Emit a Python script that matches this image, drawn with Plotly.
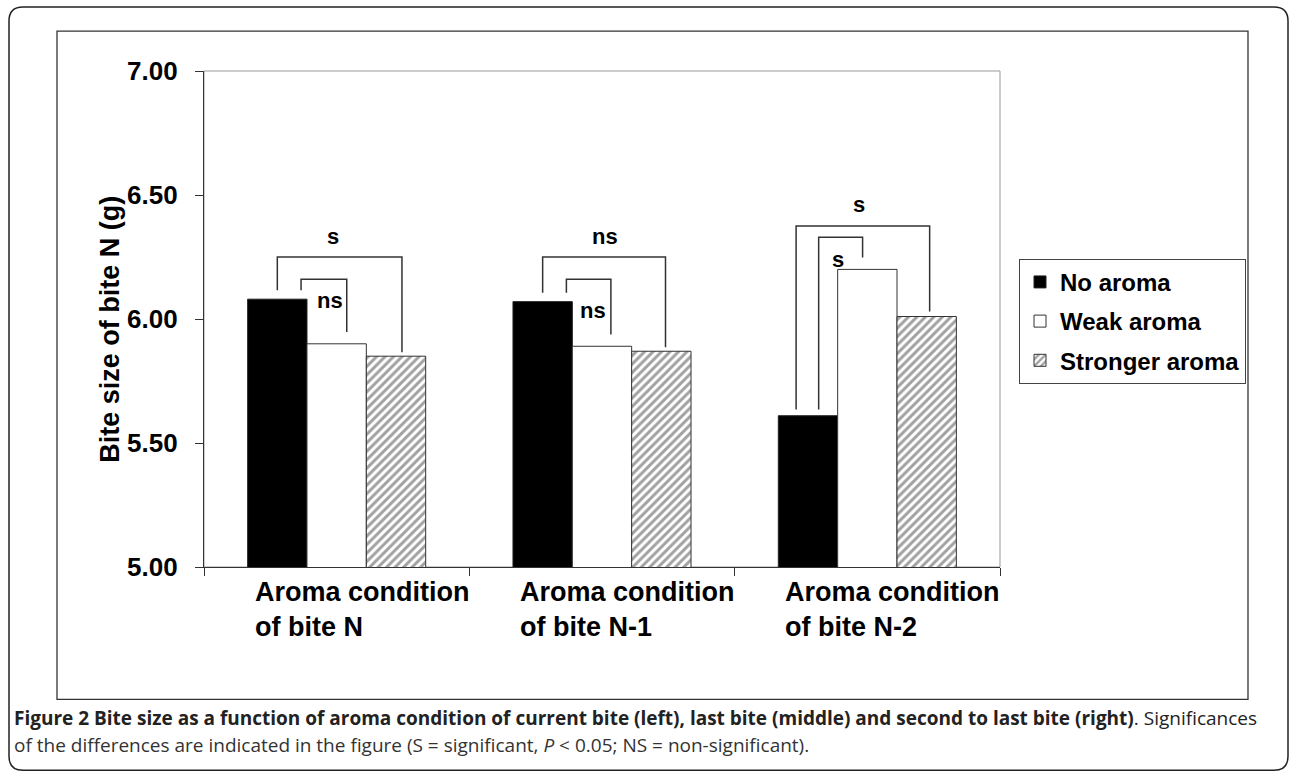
import plotly.graph_objects as go

# ---- data -------------------------------------------------------------
groups = ["Aroma condition<br>of bite N", "Aroma condition<br>of bite N-1", "Aroma condition<br>of bite N-2"]
series_names = ["No aroma", "Weak aroma", "Stronger aroma"]
no_aroma = [6.08, 6.07, 5.61]
weak_aroma = [5.90, 5.89, 6.20]
stronger_aroma = [5.85, 5.87, 6.01]
y_ticks = [5.0, 5.5, 6.0, 6.5, 7.0]

# significance brackets: group, (bar, shift in bar widths) for each arm,
# bracket top, gap above each bar, label, label position (offset, y)
brackets = [
    (0, (0, 0.00), (2, 0.10), 6.25, (0.036, 0.016), "s", (-0.014, 6.332)),
    (0, (0, 0.40), (1, 0.17), 6.16, (0.036, 0.048), "ns", (-0.027, 6.073)),
    (1, (0, 0.00), (2, 0.07), 6.25, (0.036, 0.016), "ns", (0.011, 6.332)),
    (1, (0, 0.40), (1, 0.15), 6.16, (0.036, 0.048), "ns", (-0.034, 6.033)),
    (2, (0, -0.20), (2, 0.05), 6.375, (0.025, 0.020), "s", (-0.030, 6.460)),
    (2, (0, 0.18), (1, -0.08), 6.33, (0.025, 0.048), "s", (-0.110, 6.239)),
]

# ---- geometry (pixels) ------------------------------------------------
W, H = 1292, 775
L, R, T, B = 204, 1000, 71, 567.5
BARGAP = 0.329
BAR_W = (1 - BARGAP) / 3


def px_x(p):
    return (p - L) / (R - L)


def px_y(p):
    return (B - p) / (B - T)


values = [no_aroma, weak_aroma, stronger_aroma]
xs = list(range(len(groups)))

fig = go.Figure()
fig.add_trace(go.Bar(
    name=f"<b>{series_names[0]}</b>", x=xs, y=no_aroma, legendgroup="a",
    marker=dict(color="black", line=dict(color="#222", width=1)),
))
fig.add_trace(go.Bar(
    name=f"<b>{series_names[1]}</b>", x=xs, y=weak_aroma, legendgroup="b",
    marker=dict(color="white", line=dict(color="#333", width=1)),
))
fig.add_trace(go.Bar(
    name=f"<b>{series_names[2]}</b>", x=xs, y=stronger_aroma, legendgroup="c",
    marker=dict(color="white", line=dict(color="#333", width=1),
                pattern=dict(shape="/", fgcolor="#444", bgcolor="white",
                             size=6, solidity=0.5)),
))

shapes = []
annotations = []

# brackets
for g, (lb, ls), (rb, rs), top, (lgap, rgap), label, (lx, ly) in brackets:
    x_left = g + (lb - 1) * BAR_W + ls * BAR_W
    x_right = g + (rb - 1) * BAR_W + rs * BAR_W
    y_left = values[lb][g] + lgap
    y_right = values[rb][g] + rgap
    shapes.append(dict(
        type="path", xref="x", yref="y",
        path=f"M{x_left},{y_left} L{x_left},{top} L{x_right},{top} L{x_right},{y_right}",
        line=dict(color="#333", width=1.5),
    ))
    annotations.append(dict(
        x=g + lx, y=ly, xref="x", yref="y", text=f"<b>{label}</b>",
        showarrow=False, xanchor="center", yanchor="middle",
        font=dict(family="Liberation Sans", size=22, color="black"),
    ))

# category labels
for g, name in enumerate(groups):
    annotations.append(dict(
        x=g - 0.316, y=px_y(576), xref="x", yref="paper", text=f"<b>{name}</b>",
        showarrow=False, xanchor="left", yanchor="top", align="left",
        font=dict(family="Liberation Sans", size=27, color="black"),
    ))

# y-axis title
annotations.append(dict(
    x=px_x(110), y=px_y(330), xref="paper", yref="paper",
    text="<b>Bite size of bite N (g)</b>", textangle=-90, showarrow=False,
    xanchor="center", yanchor="middle",
    font=dict(family="Liberation Sans", size=27, color="black"),
))

# caption
annotations.append(dict(
    x=px_x(12), y=px_y(719), xref="paper", yref="paper",
    text="<b>Figure 2 Bite size as a function of aroma condition of current bite (left), "
         "last bite (middle) and second to last bite (right)</b>. Significances",
    showarrow=False, xanchor="left", yanchor="middle",
    font=dict(family="Open Sans", size=19, color="#222"),
))
annotations.append(dict(
    x=px_x(12), y=px_y(746), xref="paper", yref="paper",
    text="of the differences are indicated in the figure (S = significant, "
         "<i>P</i> &lt; 0.05; NS = non-significant).",
    showarrow=False, xanchor="left", yanchor="middle",
    font=dict(family="Open Sans", size=19, color="#333"),
))

# plot-area border (top and right), inner chart frame, outer rounded frame
shapes.append(dict(type="rect", xref="paper", yref="paper", x0=0, y0=0, x1=1, y1=1,
                   line=dict(color="#999", width=1), layer="below"))
shapes.append(dict(type="rect", xref="paper", yref="paper",
                   x0=px_x(57), y0=px_y(700), x1=px_x(1248), y1=px_y(31),
                   line=dict(color="#333", width=1.3), layer="below"))
r = 14
ox0, oy0, ox1, oy1 = 9, 7, 1288, 771
pts = (
    f"M{px_x(ox0)},{px_y(oy0 + r)} Q{px_x(ox0)},{px_y(oy0)} {px_x(ox0 + r)},{px_y(oy0)} "
    f"L{px_x(ox1 - r)},{px_y(oy0)} Q{px_x(ox1)},{px_y(oy0)} {px_x(ox1)},{px_y(oy0 + r)} "
    f"L{px_x(ox1)},{px_y(oy1 - r)} Q{px_x(ox1)},{px_y(oy1)} {px_x(ox1 - r)},{px_y(oy1)} "
    f"L{px_x(ox0 + r)},{px_y(oy1)} Q{px_x(ox0)},{px_y(oy1)} {px_x(ox0)},{px_y(oy1 - r)} Z"
)
shapes.append(dict(type="path", xref="paper", yref="paper", path=pts,
                   line=dict(color="#222", width=1.5), layer="below"))

fig.update_layout(
    width=W, height=H,
    margin=dict(l=L, r=W - R, t=T, b=H - B, pad=0),
    paper_bgcolor="white", plot_bgcolor="white",
    barmode="group", bargap=BARGAP, bargroupgap=0,
    showlegend=True,
    legend=dict(
        x=px_x(1019), y=px_y(259), xanchor="left", yanchor="top",
        bordercolor="#444", borderwidth=1, bgcolor="white",
        font=dict(family="Liberation Sans", size=24, color="black"),
        itemwidth=30, traceorder="grouped", tracegroupgap=5,
    ),
    xaxis=dict(
        range=[-0.5, 2.5], tickvals=[-0.5, 0.5, 1.5, 2.5], showticklabels=False,
        ticks="outside", ticklen=8, tickcolor="#333",
        showline=True, linecolor="#333", linewidth=1.3,
        showgrid=False, zeroline=False, fixedrange=True,
    ),
    yaxis=dict(
        range=[5, 7], tickvals=y_ticks, ticktext=[f"<b>{v:.2f}</b>" for v in y_ticks],
        ticks="outside", ticklen=8, tickcolor="#333",
        showline=True, linecolor="#333", linewidth=1.3,
        showgrid=False, zeroline=False, ticklabelstandoff=12,
        tickfont=dict(family="Liberation Sans", size=26, color="black"),
    ),
    shapes=shapes,
    annotations=annotations,
)

fig.write_html("out.html")
